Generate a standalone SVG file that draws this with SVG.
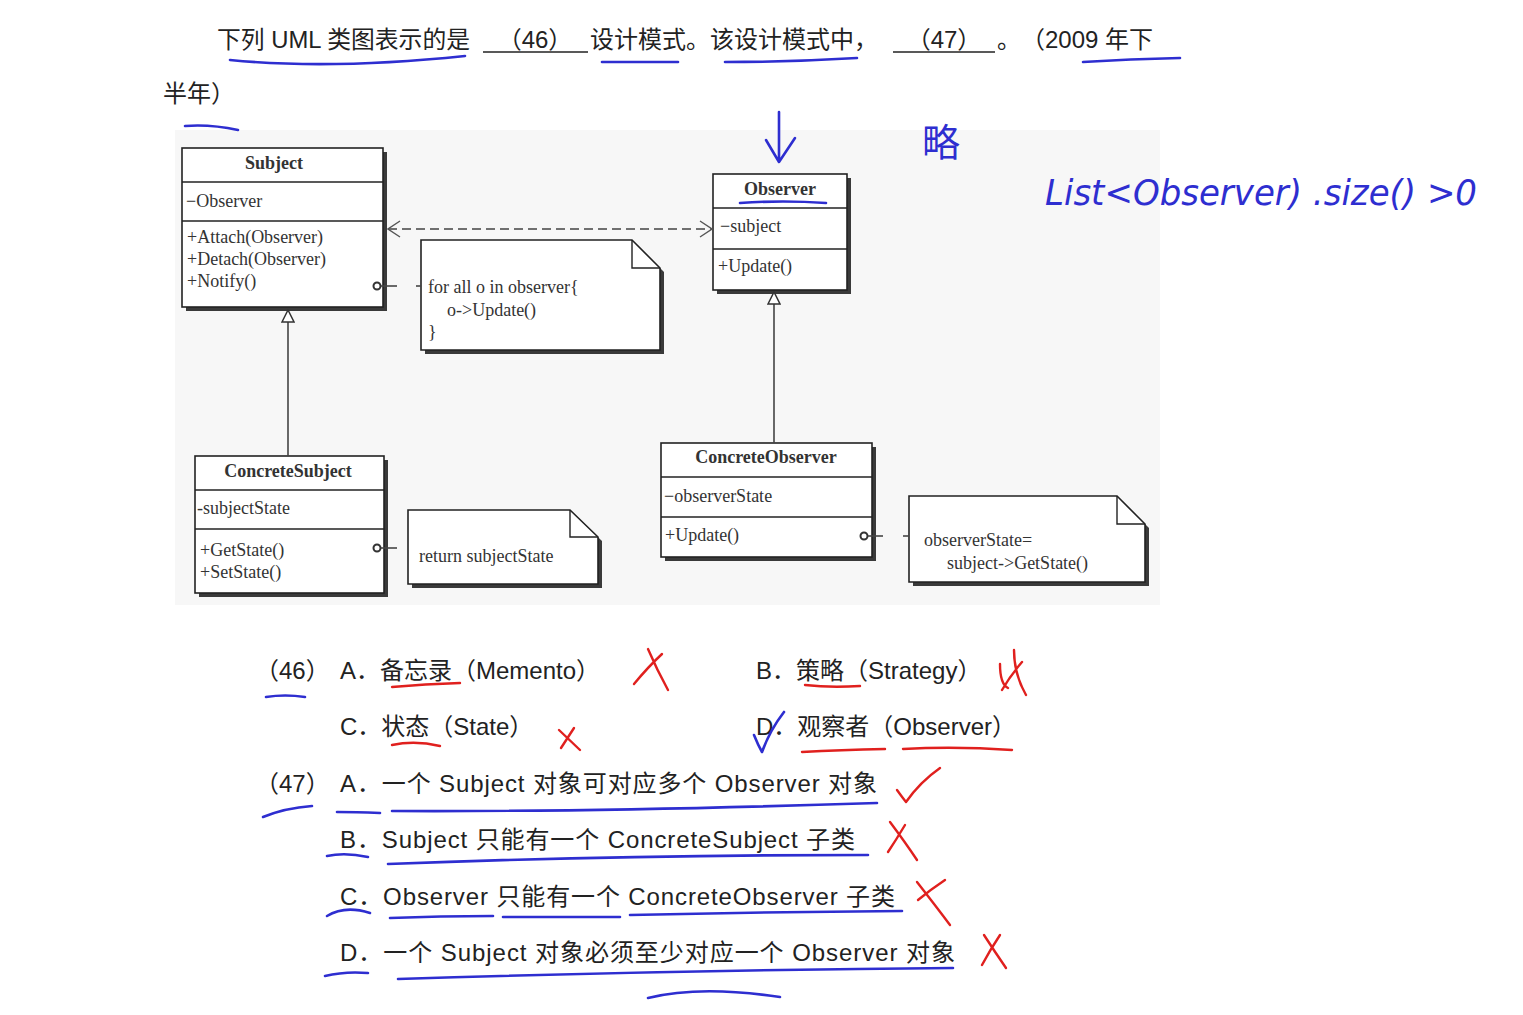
<svg xmlns="http://www.w3.org/2000/svg" width="1523" height="1015" viewBox="0 0 1523 1015">
<style>
.cjk{font-family:"Liberation Sans","Noto Sans CJK SC",sans-serif;font-size:24px;fill:#222;text-spacing-trim:space-all}
.uml{font-family:"Liberation Serif",serif;font-size:18px;fill:#333}
.ttl{font-family:"Liberation Serif",serif;font-size:18px;font-weight:bold;fill:#333;text-anchor:middle}
.box{fill:#fff;stroke:#222;stroke-width:1.6}
.shadow{fill:#3a3a3a}
.div{stroke:#222;stroke-width:1.4}
.note{fill:#fff;stroke:#222;stroke-width:1.6;stroke-linejoin:miter}
.fold{fill:none;stroke:#222;stroke-width:1.4}
.conn{stroke:#444;stroke-width:1.6;fill:none}
.blue{fill:none;stroke:#2e2ed0;stroke-width:2.6;stroke-linecap:round;stroke-linejoin:round}
.red{fill:none;stroke:#e0201e;stroke-width:2.4;stroke-linecap:round;stroke-linejoin:round}
.hand{font-family:"DejaVu Sans",sans-serif;font-style:italic;fill:#2e2ed0}
</style>
<defs>
<marker id="openArrow" viewBox="0 0 14 18" refX="13" refY="9" markerWidth="14" markerHeight="18" orient="auto-start-reverse" markerUnits="userSpaceOnUse">
<path d="M1,1 L13,9 L1,17" fill="none" stroke="#555" stroke-width="1.4"/>
</marker>
<marker id="tri" viewBox="0 0 14 14" refX="13" refY="7" markerWidth="14" markerHeight="14" orient="auto" markerUnits="userSpaceOnUse">
<path d="M1,1 L13,7 L1,13 Z" fill="#fff" stroke="#333" stroke-width="1.5"/>
</marker>
</defs>
<rect width="1523" height="1015" fill="#fff"/>
<rect x="175" y="130" width="985" height="475" fill="#f7f7f7"/>

<!-- header -->
<g id="header">
<text class="cjk" x="217" y="48" textLength="253" lengthAdjust="spacingAndGlyphs">下列 UML 类图表示的是</text>
<line x1="483" y1="52" x2="588" y2="52" stroke="#222" stroke-width="1.5"/>
<text class="cjk" x="535" y="48" text-anchor="middle">（46）</text>
<text class="cjk" x="590" y="48">设计模式。该设计模式中，</text>
<line x1="893" y1="52" x2="995" y2="52" stroke="#222" stroke-width="1.5"/>
<text class="cjk" x="944" y="48" text-anchor="middle">（47）</text>
<text class="cjk" x="997" y="48">。（2009 年下</text>
<text class="cjk" x="163" y="102">半年）</text>
</g>

<!-- Subject -->
<g id="subject">
<rect class="shadow" x="186" y="152" width="201" height="159"/>
<rect class="box" x="182" y="148" width="201" height="159"/>
<line class="div" x1="182" y1="182" x2="383" y2="182"/>
<line class="div" x1="182" y1="221" x2="383" y2="221"/>
<text class="ttl" x="274" y="169">Subject</text>
<text class="uml" x="186" y="207">−Observer</text>
<text class="uml" x="187" y="243">+Attach(Observer)</text>
<text class="uml" x="187" y="265">+Detach(Observer)</text>
<text class="uml" x="187" y="287">+Notify()</text>
</g>

<!-- Observer -->
<g id="observer">
<rect class="shadow" x="717" y="178" width="134" height="116"/>
<rect class="box" x="713" y="174" width="134" height="116"/>
<line class="div" x1="713" y1="208" x2="847" y2="208"/>
<line class="div" x1="713" y1="249" x2="847" y2="249"/>
<text class="ttl" x="780" y="195">Observer</text>
<text class="uml" x="720" y="232">−subject</text>
<text class="uml" x="718" y="272">+Update()</text>
</g>

<!-- ConcreteSubject -->
<g id="concreteSubject">
<rect class="shadow" x="199" y="460" width="189" height="137"/>
<rect class="box" x="195" y="456" width="189" height="137"/>
<line class="div" x1="195" y1="490" x2="384" y2="490"/>
<line class="div" x1="195" y1="529" x2="384" y2="529"/>
<text class="ttl" x="288" y="477">ConcreteSubject</text>
<text class="uml" x="197" y="514">-subjectState</text>
<text class="uml" x="200" y="556">+GetState()</text>
<text class="uml" x="200" y="578">+SetState()</text>
</g>

<!-- ConcreteObserver -->
<g id="concreteObserver">
<rect class="shadow" x="665" y="447" width="211" height="114"/>
<rect class="box" x="661" y="443" width="211" height="114"/>
<line class="div" x1="661" y1="477" x2="872" y2="477"/>
<line class="div" x1="661" y1="517" x2="872" y2="517"/>
<text class="ttl" x="766" y="463">ConcreteObserver</text>
<text class="uml" x="664" y="502">−observerState</text>
<text class="uml" x="665" y="541">+Update()</text>
</g>

<!-- Note 1 -->
<g id="noteNotify">
<path class="shadow" d="M425,244 L636,244 L664,272 L664,354 L425,354 Z"/>
<path class="note" d="M421,240 L632,240 L660,268 L660,350 L421,350 Z"/>
<path class="fold" d="M632,240 L632,268 L660,268"/>
<text class="uml" x="428" y="293">for all o in observer{</text>
<text class="uml" x="447" y="316">o-&gt;Update()</text>
<text class="uml" x="428" y="338">}</text>
</g>

<!-- Note 2 -->
<g id="noteGetState">
<path class="shadow" d="M412,514 L574,514 L602,541 L602,588 L412,588 Z"/>
<path class="note" d="M408,510 L570,510 L598,537 L598,584 L408,584 Z"/>
<path class="fold" d="M570,510 L570,537 L598,537"/>
<text class="uml" x="419" y="562">return subjectState</text>
</g>

<!-- Note 3 -->
<g id="noteUpdate">
<path class="shadow" d="M913,500 L1121,500 L1149,528 L1149,586 L913,586 Z"/>
<path class="note" d="M909,496 L1117,496 L1145,524 L1145,582 L909,582 Z"/>
<path class="fold" d="M1117,496 L1117,524 L1145,524"/>
<text class="uml" x="924" y="546">observerState=</text>
<text class="uml" x="947" y="569">subject-&gt;GetState()</text>
</g>

<!-- connectors -->
<g id="connectors">
<line class="conn" x1="388" y1="229" x2="712" y2="229" stroke="#666" stroke-dasharray="9 5" marker-start="url(#openArrow)" marker-end="url(#openArrow)"/>
<line class="conn" x1="288" y1="456" x2="288" y2="310" marker-end="url(#tri)"/>
<line class="conn" x1="774" y1="443" x2="774" y2="292" marker-end="url(#tri)"/>
<circle cx="377" cy="286" r="3.5" fill="none" stroke="#333" stroke-width="2"/>
<line class="conn" x1="381" y1="286" x2="397" y2="286" stroke-width="2"/>
<line class="conn" x1="416" y1="286" x2="421" y2="286" stroke-width="2"/>
<circle cx="377" cy="548" r="3.5" fill="none" stroke="#333" stroke-width="2"/>
<line class="conn" x1="381" y1="548" x2="397" y2="548" stroke-width="2"/>
<circle cx="864" cy="536" r="3.5" fill="none" stroke="#333" stroke-width="2"/>
<line class="conn" x1="868" y1="536" x2="883" y2="536" stroke-width="2"/>
<line class="conn" x1="903" y1="536" x2="909" y2="536" stroke-width="2"/>
</g>

<!-- options -->
<g id="options">
<text class="cjk" x="255" y="679">（46）</text>
<text class="cjk" x="340" y="679">A．备忘录（Memento）</text>
<text class="cjk" x="756" y="679">B．策略（Strategy）</text>
<text class="cjk" x="340" y="735">C．状态（State）</text>
<text class="cjk" x="756" y="735">D．观察者（Observer）</text>
<text class="cjk" x="255" y="792">（47）</text>
<text class="cjk" x="340" y="792" textLength="537" lengthAdjust="spacing">A．一个 Subject 对象可对应多个 Observer 对象</text>
<text class="cjk" x="340" y="848" textLength="515" lengthAdjust="spacing">B．Subject 只能有一个 ConcreteSubject 子类</text>
<text class="cjk" x="340" y="905" textLength="555" lengthAdjust="spacing">C．Observer 只能有一个 ConcreteObserver 子类</text>
<text class="cjk" x="340" y="961" textLength="615" lengthAdjust="spacing">D．一个 Subject 对象必须至少对应一个 Observer 对象</text>
</g>

<!-- handwritten annotations -->
<g id="annotations">
<path class="blue" d="M230,60 Q330,70 465,56"/>
<path class="blue" d="M602,62 L678,62"/>
<path class="blue" d="M725,62 Q790,62 857,58"/>
<path class="blue" d="M1083,62 Q1130,59 1180,58"/>
<path class="blue" d="M185,126 Q210,124 238,130"/>
<path class="blue" d="M779,112 L779,160 M766,140 L779,162 L795,138"/>
<path class="blue" d="M740,203 Q783,200 826,203"/>
<text x="922" y="156" font-size="38" fill="#2e2ed0" style="font-family:'Noto Sans CJK SC',sans-serif">略</text>
<text class="hand" x="1045" y="205" font-size="36" textLength="432" lengthAdjust="spacingAndGlyphs">List&lt;Observer) .size() &gt;0</text>

<path class="blue" d="M266,697 Q285,694 305,697"/>
<path class="blue" d="M263,817 Q285,808 312,806"/>
<path class="blue" d="M337,812 Q355,812 380,813"/>
<path class="blue" d="M392,811 Q600,812 877,803"/>
<path class="blue" d="M327,856 Q345,852 368,857"/>
<path class="blue" d="M388,864 Q620,855 868,855"/>
<path class="blue" d="M327,916 Q345,905 370,913"/>
<path class="blue" d="M390,918 Q440,916 493,916 M503,917 L620,917 M630,915 Q760,912 902,911"/>
<path class="blue" d="M325,976 Q345,971 368,973"/>
<path class="blue" d="M398,979 Q680,970 953,968"/>
<path class="blue" d="M648,998 Q700,985 780,997"/>
<path class="blue" d="M754,735 Q758,745 762,752 Q770,730 784,712"/>

<path class="red" d="M392,687 Q425,684 460,683"/>
<path class="red" d="M805,685 Q830,688 860,686"/>
<path class="red" d="M392,745 Q415,740 440,746"/>
<path class="red" d="M802,752 Q840,750 885,749"/>
<path class="red" d="M903,749 Q955,746 1012,750"/>
<path class="red" d="M648,649 Q657,670 668,690 M662,654 Q648,667 634,684"/>
<path class="red" d="M1000,664 Q1000,684 1008,688 M1014,650 Q1014,674 1026,695 M1022,662 Q1010,676 1002,690"/>
<path class="red" d="M559,730 L580,750 M574,728 L561,748"/>
<path class="red" d="M897,790 Q902,797 906,802 Q920,782 940,768"/>
<path class="red" d="M890,822 Q905,842 917,860 M905,825 Q896,840 888,852"/>
<path class="red" d="M917,882 Q935,905 950,925 M945,880 Q930,890 918,900"/>
<path class="red" d="M984,935 Q995,952 1006,968 M1000,935 Q990,950 982,965"/>
</g>
</svg>
